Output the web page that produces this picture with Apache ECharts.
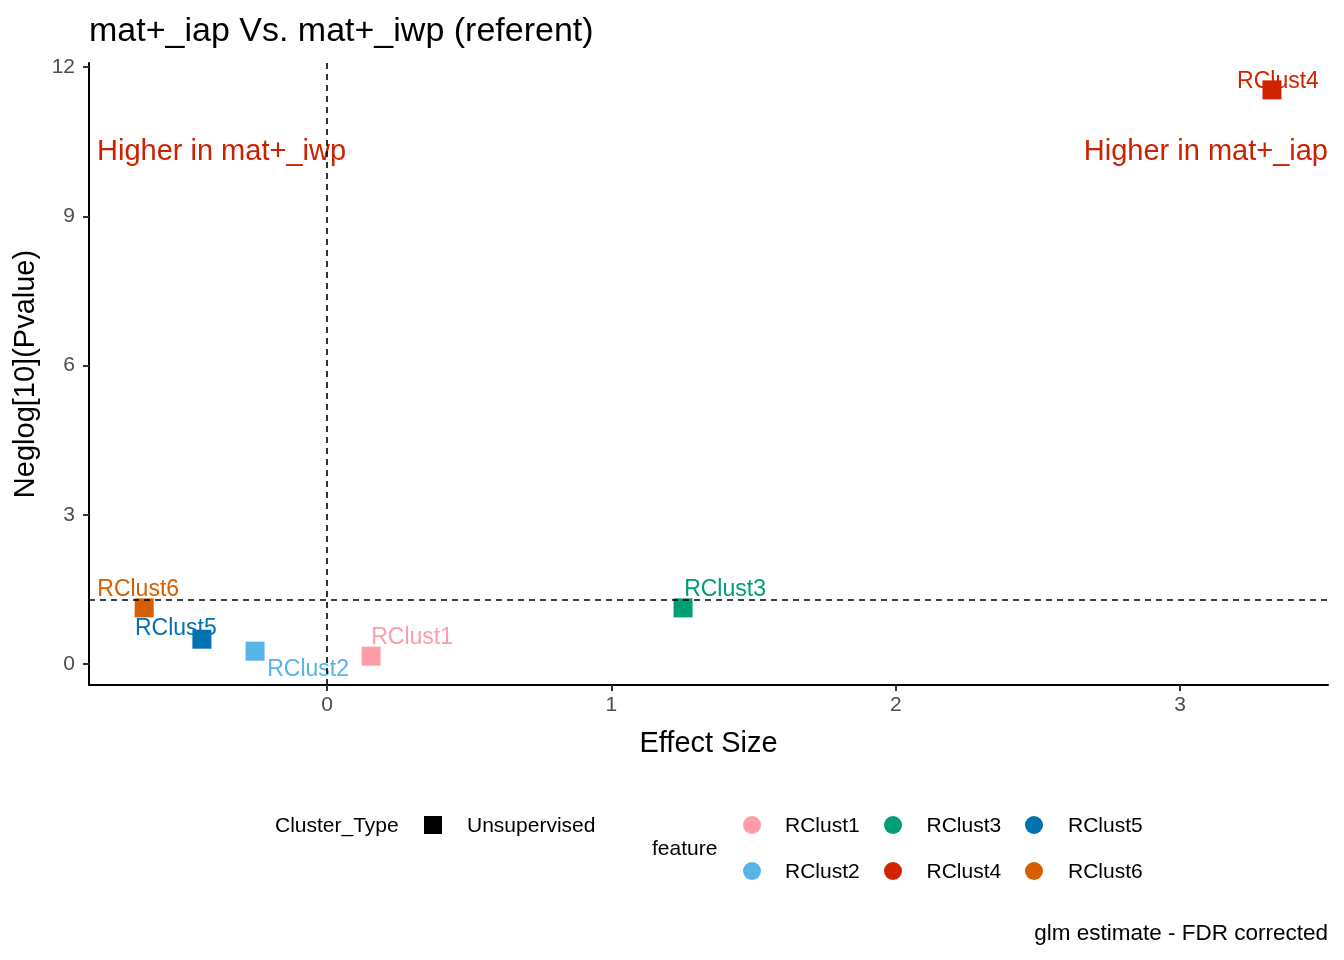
<!DOCTYPE html>
<html lang="en">
<head>
  <meta charset="UTF-8">
  <script src="https://cdn.jsdelivr.net/npm/echarts@6/dist/echarts.min.js"></script>
  <title>volcano</title>
  <style>
    html, body { margin: 0; padding: 0; background: #fff; }
    #main { width: 1344px; height: 960px; }
  </style>
</head>
<body>
  <div id="main"></div>
  <script>
    // data
    var features = ['RClust1', 'RClust2', 'RClust3', 'RClust4', 'RClust5', 'RClust6']
    var effectSize = [0.155, -0.253, 1.252, 3.323, -0.440, -0.643]
    var negLogP = [0.16, 0.26, 1.13, 11.54, 0.50, 1.13]
    var colors = ['#FF9DA7', '#56B4E9', '#009E73', '#D22300', '#0072B2', '#D55E00']
    var xTicks = [0, 1, 2, 3]
    var yTicks = [0, 3, 6, 9, 12]
    var pThreshold = -Math.log10(0.05)

    // repel-like label offsets (px)
    var labelOffsets = [[41, -18], [53, 18], [42, -18], [6, -8], [-26, -11], [-6, -18]]

    var font = 'Liberation Sans, Arial, sans-serif'
    var chart = echarts.init(document.getElementById('main'))

    var points = features.map((f, i) => ({
      name: f,
      value: [effectSize[i], negLogP[i]],
      itemStyle: { color: colors[i], opacity: 1 },
      label: { color: colors[i], offset: labelOffsets[i] }
    }))

    // legend: feature, column-major 2 rows
    var legendItems = []
    features.forEach((f, i) => {
      var col = Math.floor(i / 2), row = i % 2
      var cy = 825 + row * 46
      legendItems.push({ type: 'circle', shape: { cx: 752 + col * 141, cy: cy, r: 9 }, style: { fill: colors[i] } })
      legendItems.push({ type: 'text', x: 785 + col * 141.5, y: cy + 1, style: { text: f, font: '21px ' + font, fill: '#000', verticalAlign: 'middle' } })
    })

    var option = {
      backgroundColor: '#fff',
      animation: false,
      title: {
        text: 'mat+_iap Vs. mat+_iwp (referent)',
        left: 89, top: 15, padding: 0,
        textStyle: { fontFamily: font, fontSize: 34, fontWeight: 'normal', color: '#000' }
      },
      grid: { left: 89, right: 16, top: 63, bottom: 275 },
      xAxis: {
        type: 'value', min: -0.837, max: 3.52,
        name: 'Effect Size', nameLocation: 'middle', nameGap: 44,
        nameTextStyle: { fontFamily: font, fontSize: 29, color: '#000' },
        splitLine: { show: false },
        axisLine: { onZero: false, lineStyle: { color: '#000', width: 2 } },
        axisTick: { customValues: xTicks, length: 6, lineStyle: { color: '#333', width: 2 } },
        axisLabel: { customValues: xTicks, fontFamily: font, fontSize: 21, color: '#4D4D4D', margin: 10 }
      },
      yAxis: {
        type: 'value', min: -0.42, max: 12.08,
        name: 'Neglog[10](Pvalue)', nameLocation: 'middle', nameGap: 43,
        nameTextStyle: { fontFamily: font, fontSize: 29, color: '#000' },
        splitLine: { show: false },
        axisLine: { onZero: false, lineStyle: { color: '#000', width: 2 } },
        axisTick: { customValues: yTicks, length: 6, lineStyle: { color: '#333', width: 2 } },
        axisLabel: { customValues: yTicks, fontFamily: font, fontSize: 21, color: '#4D4D4D', margin: 14 }
      },
      series: [{
        type: 'scatter',
        symbol: 'rect',
        symbolSize: 19,
        data: points,
        label: {
          show: true, position: 'inside', formatter: p => p.name,
          fontFamily: font, fontSize: 23
        },
        markLine: {
          silent: true, symbol: 'none',
          label: { show: false },
          lineStyle: { color: '#000', type: [6, 5], width: 1.6 },
          data: [{ xAxis: 0 }, { yAxis: pThreshold }]
        },
        z: 3
      }],
      graphic: [
        { type: 'text', left: 97, top: 137, style: { text: 'Higher in mat+_iwp', font: '29px ' + font, fill: '#CC2200' } },
        { type: 'text', right: 16, top: 137, style: { text: 'Higher in mat+_iap', font: '29px ' + font, fill: '#CC2200' } },
        { type: 'text', left: 275, top: 816, style: { text: 'Cluster_Type', font: '21px ' + font, fill: '#000' } },
        { type: 'rect', shape: { x: 424, y: 816, width: 18, height: 18 }, style: { fill: '#000' } },
        { type: 'text', left: 467, top: 816, style: { text: 'Unsupervised', font: '21px ' + font, fill: '#000' } },
        { type: 'text', left: 652, top: 839, style: { text: 'feature', font: '21px ' + font, fill: '#000' } },
        { type: 'group', children: legendItems },
        { type: 'text', right: 16, top: 922, style: { text: 'glm estimate - FDR corrected', font: '22.5px ' + font, fill: '#000' } }
      ]
    }

    chart.setOption(option)
  </script>
</body>
</html>
